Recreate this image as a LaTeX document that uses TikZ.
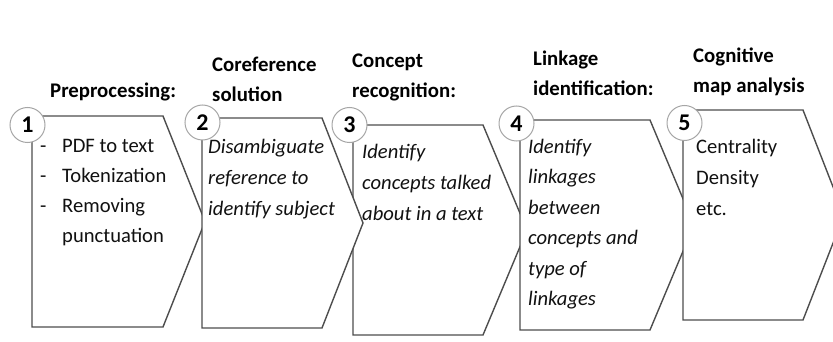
\documentclass[tikz,border=0pt]{standalone}
\usepackage{fontspec}
\setmainfont{Carlito}
\definecolor{boxgray}{HTML}{4D4D4D}
\definecolor{circgray}{HTML}{A6A6A6}
\definecolor{bodyc}{HTML}{111111}
\begin{document}
\begin{tikzpicture}[x=1pt,y=-1pt,
  box/.style={draw=boxgray, line width=1.4pt, fill=white, line join=miter},
  num/.style={circle, draw=circgray, line width=1pt, fill=white, minimum size=35pt, inner sep=0pt, font=\bfseries\fontsize{24}{24}\selectfont},
  title/.style={anchor=base west, align=left, inner sep=0pt, font=\bfseries\fontsize{20.8}{30}\selectfont},
  body/.style={anchor=base west, align=left, inner sep=0pt, text=bodyc, font=\fontsize{20.6}{30.5}\selectfont},
  bodyit/.style={anchor=base west, align=left, inner sep=0pt, text=bodyc, font=\itshape\fontsize{20.6}{31}\selectfont}]
\clip (0,0) rectangle (833,342);
% boxes (drawing order as layered in the reference)
\draw[box] (32,116) -- (163,116) -- (205,221.5) -- (163,327) -- (32,327) -- cycle;
\draw[box] (353,125) -- (483,125) -- (527,230) -- (483,335) -- (353,335) -- cycle;
\draw[box] (202,118) -- (322,118) -- (363,223) -- (322,328) -- (202,328) -- cycle;
\draw[box] (520,120) -- (650,120) -- (694,225) -- (650,330) -- (520,330) -- cycle;
\draw[box] (683,110) -- (803,110) -- (844,215) -- (803,320) -- (683,320) -- cycle;
% number circles
\node[num] (n1) at (27.5,125) {1};
\node[num] (n2) at (202.5,122.5) {2};
\node[num] (n3) at (349.5,125) {3};
\node[num] (n4) at (516.5,123.5) {4};
\node[num] (n5) at (684.5,123) {5};
% titles (anchor = baseline of the last line)
\node[title] (t1) at (50,98) {Preprocessing:};
\node[title] (t2) at (212,102) {Coreference\\solution};
\node[title] (t3) at (352,98) {Concept\\recognition:};
\node[title] (t4) at (533,96) {Linkage\\identification:};
\node[title] (t5) at (693,93) {Cognitive\\map analysis};
% bodies (anchor = baseline of the last line)
\node[body, font=\fontsize{20.6}{29.7}\selectfont] (b1) at (40,242)
  {\makebox[22pt][l]{-}PDF to text\\\makebox[22pt][l]{-}Tokenization\\\makebox[22pt][l]{-}Removing\\\hspace*{22pt}punctuation};
\node[bodyit] (b2) at (208,215) {Disambiguate\\reference to\\identify subject};
\node[bodyit] (b3) at (362,220) {Identify\\concepts talked\\about in a text};
\node[bodyit, font=\itshape\fontsize{20.6}{30.5}\selectfont] (b4) at (528,305.5) {Identify\\linkages\\between\\concepts and\\type of\\linkages};
\node[body, font=\fontsize{20.6}{31}\selectfont] (b5) at (696,215) {Centrality\\Density\\etc.};
\end{tikzpicture}
\end{document}
